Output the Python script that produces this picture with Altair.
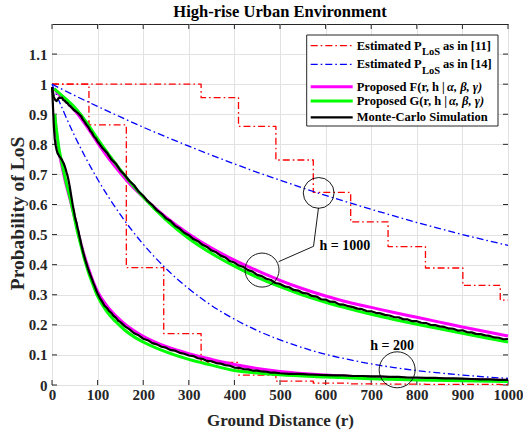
import altair as alt
import pandas as pd

FONT = "Liberation Serif"

# ---------------------------------------------------------------- axes ----
x_ticks = [0, 100, 200, 300, 400, 500, 600, 700, 800, 900, 1000]
y_ticks = [0, 0.1, 0.2, 0.3, 0.4, 0.5, 0.6, 0.7, 0.8, 0.9, 1.0, 1.1]

# ------------------------------------------- estimated P_LoS as in [11] ----
# staircase estimates (value holds until the next breakpoint)
est11_h1000_r = [0, 327, 409, 491, 573, 655, 737, 819, 901, 983, 1000]
est11_h1000_p = [1.0, 0.955, 0.86, 0.748, 0.64, 0.542, 0.46, 0.389, 0.331, 0.282, 0.282]
est11_h200_r = [0, 81, 163, 245, 327, 409, 491, 573, 655, 737, 819, 901, 983, 1000]
est11_h200_p = [1.0, 0.865, 0.39, 0.171, 0.075, 0.033, 0.013, 0.006, 0.004, 0.003,
                0.002, 0.002, 0.001, 0.001]

# ------------------------------------------- estimated P_LoS as in [14] ----
est14_r = [0, 50, 100, 150, 200, 250, 300, 350, 400, 450, 500,
           550, 600, 650, 700, 750, 800, 850, 900, 950, 1000]
est14_h1000_p = [1.0, 0.962, 0.926, 0.891, 0.857, 0.825, 0.794, 0.764, 0.735, 0.707, 0.681,
                 0.655, 0.630, 0.607, 0.584, 0.562, 0.540, 0.520, 0.500, 0.482, 0.464]
est14_h200_p = [1.0, 0.827, 0.684, 0.566, 0.468, 0.387, 0.320, 0.264, 0.219, 0.181, 0.150,
                0.124, 0.102, 0.085, 0.070, 0.058, 0.048, 0.040, 0.033, 0.027, 0.022]

# ----------------------------------------------- proposed F(r, h | a,b,g) ----
propF_h1000_r = [5, 10, 25, 50, 75, 100, 125, 150, 175, 200, 250, 300, 350, 400, 450,
                 500, 550, 600, 650, 700, 750, 800, 850, 900, 950, 1000]
propF_h1000_p = [0.985, 0.975, 0.952, 0.912, 0.862, 0.805, 0.752, 0.705, 0.662, 0.625,
                 0.558, 0.502, 0.455, 0.415, 0.380, 0.348, 0.320, 0.296, 0.275, 0.258,
                 0.241, 0.225, 0.209, 0.193, 0.178, 0.163]
propF_h200_r = [6, 8, 10, 13, 16, 20, 25, 30, 35, 40, 45, 50, 60, 70, 80, 90, 100, 120,
                140, 160, 180, 200, 250, 300, 350, 400, 450, 500, 600, 700, 800, 900, 1000]
propF_h200_p = [0.90, 0.865, 0.835, 0.80, 0.77, 0.74, 0.705, 0.672, 0.643, 0.615, 0.585,
                0.555, 0.49, 0.435, 0.387, 0.345, 0.31, 0.264, 0.23, 0.202, 0.18, 0.162,
                0.128, 0.104, 0.085, 0.068, 0.055, 0.045, 0.033, 0.026, 0.021, 0.018, 0.015]

# ----------------------------------------------- proposed G(r, h | a,b,g) ----
propG_h1000_r = [5, 10, 25, 50, 75, 100, 125, 150, 175, 200, 250, 300, 350, 400, 450,
                 500, 550, 600, 650, 700, 750, 800, 850, 900, 950, 1000]
propG_h1000_p = [0.985, 0.978, 0.958, 0.922, 0.875, 0.818, 0.765, 0.715, 0.668, 0.625,
                 0.549, 0.487, 0.437, 0.395, 0.358, 0.327, 0.299, 0.275, 0.254, 0.235,
                 0.218, 0.202, 0.187, 0.172, 0.157, 0.143]
propG_h200_r = [6, 8, 10, 13, 16, 20, 25, 30, 35, 40, 45, 50, 55, 60, 65, 70, 80, 90, 100,
                120, 140, 160, 180, 200, 250, 300, 350, 400, 450, 500, 600, 700, 800, 900, 1000]
propG_h200_p = [0.90, 0.87, 0.845, 0.81, 0.78, 0.75, 0.715, 0.68, 0.65, 0.62, 0.585, 0.55,
                0.515, 0.485, 0.455, 0.425, 0.375, 0.333, 0.295, 0.245, 0.21, 0.182, 0.16,
                0.143, 0.11, 0.085, 0.066, 0.048, 0.040, 0.034, 0.027, 0.021, 0.017, 0.014,
                0.012]

# ------------------------------------------------ Monte-Carlo simulation ----
mc_h1000_r = [0, 2, 4, 6, 8, 10, 13, 16, 19, 22, 25, 28, 31, 34, 37, 40, 44, 48, 52, 56,
              60, 64, 68, 72, 76, 80, 84, 88, 92, 96,
              100, 110, 120, 130, 140, 150, 160, 170, 180, 190,
              200, 210, 220, 230, 240, 250, 260, 270, 280, 290,
              300, 310, 320, 330, 340, 350, 360, 370, 380, 390,
              400, 410, 420, 430, 440, 450, 460, 470, 480, 490,
              500, 510, 520, 530, 540, 550, 560, 570, 580, 590,
              600, 610, 620, 630, 640, 650, 660, 670, 680, 690,
              700, 710, 720, 730, 740, 750, 760, 770, 780, 790,
              800, 810, 820, 830, 840, 850, 860, 870, 880, 890,
              900, 910, 920, 930, 940, 950, 960, 970, 980, 990, 1000]
mc_h1000_p = [0.99, 0.975, 0.958, 0.95, 0.946, 0.944, 0.95, 0.956, 0.954, 0.955, 0.947,
              0.945, 0.939, 0.937, 0.930, 0.927, 0.921, 0.914, 0.910, 0.905,
              0.899, 0.893, 0.882, 0.874, 0.864, 0.857, 0.845, 0.838, 0.826, 0.82,
              0.810, 0.789, 0.773, 0.750, 0.736, 0.713, 0.697, 0.678, 0.664, 0.643,
              0.629, 0.611, 0.598, 0.581, 0.570, 0.554, 0.545, 0.529, 0.520, 0.506,
              0.498, 0.485, 0.478, 0.466, 0.459, 0.447, 0.441, 0.430, 0.424, 0.412,
              0.407, 0.397, 0.392, 0.382, 0.377, 0.366, 0.362, 0.353, 0.349, 0.339,
              0.336, 0.328, 0.325, 0.316, 0.314, 0.306, 0.304, 0.296, 0.294, 0.285,
              0.284, 0.277, 0.276, 0.268, 0.267, 0.262, 0.259, 0.254, 0.252, 0.246,
              0.245, 0.240, 0.238, 0.233, 0.231, 0.226, 0.225, 0.219, 0.218, 0.212,
              0.212, 0.207, 0.206, 0.200, 0.199, 0.195, 0.193, 0.188, 0.187, 0.181,
              0.182, 0.176, 0.175, 0.170, 0.169, 0.165, 0.163, 0.158, 0.157, 0.152, 0.153]

mc_h200_r = [0, 1, 2, 3, 4, 5, 6, 8, 10, 12, 14, 16, 18, 20, 22, 24, 26, 28, 30, 32, 34,
             36, 38, 40, 42, 44, 46, 48, 50, 52, 54, 56, 58, 60, 62, 64, 66, 68, 70, 73,
             76, 79, 82, 85, 88, 91, 94, 97, 100, 105, 110, 115, 120, 125, 130, 135, 140,
             145, 150, 160, 170, 180, 190, 200, 210, 220, 230, 240, 250, 260, 270, 280,
             290, 300, 310, 320, 330, 340, 350, 360, 370, 380, 390, 400, 410, 420, 430,
             440, 450, 460, 470, 480, 490, 500, 520, 540, 560, 580, 600, 620, 640, 660,
             680, 700, 720, 740, 760, 780, 800, 820, 840, 860, 880, 900, 920, 940, 960,
             980, 1000]
mc_h200_p = [0.99, 0.965, 0.93, 0.895, 0.862, 0.84, 0.818, 0.797, 0.782, 0.771, 0.766,
             0.760, 0.757, 0.752, 0.748, 0.741, 0.736, 0.727, 0.717, 0.706, 0.696, 0.682,
             0.667, 0.649, 0.630, 0.612, 0.593, 0.579, 0.562, 0.548, 0.538, 0.522, 0.511,
             0.495, 0.483, 0.468, 0.456, 0.443, 0.432, 0.415, 0.401, 0.386, 0.374, 0.362,
             0.350, 0.338, 0.327, 0.314, 0.304, 0.289, 0.277, 0.264, 0.257, 0.246, 0.240,
             0.230, 0.224, 0.214, 0.209, 0.195, 0.185, 0.172, 0.165, 0.154, 0.149, 0.139,
             0.135, 0.127, 0.124, 0.116, 0.114, 0.107, 0.104, 0.098, 0.096, 0.089, 0.087,
             0.080, 0.079, 0.073, 0.071, 0.066, 0.064, 0.058, 0.057, 0.053, 0.052, 0.048,
             0.048, 0.045, 0.044, 0.041, 0.041, 0.039, 0.037, 0.037, 0.035, 0.034, 0.033,
             0.032, 0.032, 0.030, 0.030, 0.029, 0.029, 0.027, 0.027, 0.025, 0.025, 0.024,
             0.024, 0.022, 0.022, 0.021, 0.020, 0.019, 0.019, 0.017, 0.017]

# ------------------------------------------------------- annotations ----
ring_r = [584.8, 460.6, 756.9]
ring_p = [0.6385, 0.382, 0.0505]
ring_size = [949, 1156, 1296]
leader_r = [584.4, 573.5, 497.0]
leader_p = [0.589, 0.461, 0.410]
labels_text = ["h = 1000", "h = 200"]
labels_r = [586.6, 746.0]
labels_p = [0.463, 0.129]
labels_align = ["left", "center"]

# ------------------------------------------------------------ layout ----
W, H = 456, 361
DASHDOT = [7, 3, 1.6, 3]

x_scale = alt.Scale(domain=[0, 1000], nice=False, zero=False)
y_scale = alt.Scale(domain=[0, 1.2], nice=False, zero=False)

x_axis = alt.Axis(values=x_ticks, format="d", title="Ground Distance (r)", grid=True,
                  ticks=False, domain=False, labelPadding=2, labelFlush=False,
                  labelOverlap=False, titleX=W / 2, titleY=35, titleBaseline="middle",
                  titleAlign="center", labelFontSize=15, titleFontSize=17)
y_axis = alt.Axis(values=y_ticks, format="~g", title="Probability of LoS", grid=True,
                  ticks=False, domain=False, labelPadding=5, labelOverlap=False,
                  titleX=-35, titleY=189, titleAngle=-90, titleBaseline="middle",
                  titleAlign="center", labelFontSize=15, titleFontSize=19.5)

X = alt.X("r:Q", scale=x_scale, axis=x_axis)
Y = alt.Y("p:Q", scale=y_scale, axis=y_axis)


def frame(r, p):
    return pd.DataFrame({"r": r, "p": p})


def curve(r, p, color, width, dash=None, interp="linear"):
    kw = dict(color=color, strokeWidth=width, interpolate=interp, strokeJoin="round")
    if dash:
        kw["strokeDash"] = dash
    return alt.Chart(frame(r, p)).mark_line(**kw).encode(x=X, y=Y)


one = pd.DataFrame({"k": [0]})

# inward ticks on all four sides of the box
tick_col = "#262626"
xt = pd.DataFrame({"r": x_ticks})
yt = pd.DataFrame({"p": y_ticks})
ticks = [
    alt.Chart(xt).mark_rule(color=tick_col, strokeWidth=1).encode(
        x=X, y=alt.value(H), y2=alt.value(H - 5)),
    alt.Chart(xt).mark_rule(color=tick_col, strokeWidth=1).encode(
        x=X, y=alt.value(0), y2=alt.value(5)),
    alt.Chart(yt).mark_rule(color=tick_col, strokeWidth=1).encode(
        y=Y, x=alt.value(0), x2=alt.value(5)),
    alt.Chart(yt).mark_rule(color=tick_col, strokeWidth=1).encode(
        y=Y, x=alt.value(W), x2=alt.value(W - 5)),
]

series = [
    curve(est11_h1000_r, est11_h1000_p, "#ff0000", 1.3, DASHDOT, "step-after"),
    curve(est11_h200_r, est11_h200_p, "#ff0000", 1.3, DASHDOT, "step-after"),
    curve(est14_r, est14_h1000_p, "#0000ff", 1.3, DASHDOT, "monotone"),
    curve(est14_r, est14_h200_p, "#0000ff", 1.3, DASHDOT, "monotone"),
    curve(propF_h1000_r, propF_h1000_p, "#ff00ff", 3, None, "monotone"),
    curve(propF_h200_r, propF_h200_p, "#ff00ff", 3, None, "monotone"),
    curve(propG_h1000_r, propG_h1000_p, "#00ff00", 3, None, "monotone"),
    curve(propG_h200_r, propG_h200_p, "#00ff00", 3, None, "monotone"),
    curve(mc_h1000_r, mc_h1000_p, "#000000", 2.2),
    curve(mc_h200_r, mc_h200_p, "#000000", 2.2),
]

rings = alt.Chart(pd.DataFrame({"r": ring_r, "p": ring_p, "s": ring_size})).mark_point(
    shape="circle", filled=False, color="#000000", strokeWidth=0.9, opacity=1
).encode(x=X, y=Y, size=alt.Size("s:Q", scale=None, legend=None))

leader = alt.Chart(pd.DataFrame({"r": leader_r, "p": leader_p, "o": [0, 1, 2]})).mark_line(
    color="#000000", strokeWidth=0.9
).encode(x=X, y=Y, order="o:Q")

h_labels = [
    alt.Chart(pd.DataFrame({"r": [labels_r[i]], "p": [labels_p[i]], "t": [labels_text[i]]}))
    .mark_text(font=FONT, fontWeight="bold", fontSize=14, align=labels_align[i],
               baseline="middle", color="#000000")
    .encode(x=X, y=Y, text="t:N")
    for i in range(2)
]

title = alt.Chart(one).mark_text(
    font=FONT, fontWeight="bold", fontSize=16.5, align="center", baseline="middle",
    color="#000000"
).encode(x=alt.value(W / 2), y=alt.value(-12.3), text=alt.value("High-rise Urban Environment"))

# legend box
LX0, LX1, LY0, LY1 = 254.7, 446, 11, 102
SX0, SX1, TX = 258.7, 300.7, 304.7
rows = [21.7, 40.3, 62.7, 77.0, 93.3]

legend = [
    alt.Chart(one).mark_rect(fill="white", stroke="#262626", strokeWidth=1).encode(
        x=alt.value(LX0), x2=alt.value(LX1), y=alt.value(LY0), y2=alt.value(LY1)),
]
sample_styles = [("#ff0000", 1.3, DASHDOT), ("#0000ff", 1.3, DASHDOT),
                 ("#ff00ff", 3, None), ("#00ff00", 3, None), ("#000000", 2.2, None)]
for (col, sw, dash), yy in zip(sample_styles, rows):
    kw = dict(color=col, strokeWidth=sw)
    if dash:
        kw["strokeDash"] = dash
    legend.append(alt.Chart(one).mark_rule(**kw).encode(
        x=alt.value(SX0), x2=alt.value(SX1), y=alt.value(yy)))


def ltext(s, x, y, size=12.5, style="normal"):
    return alt.Chart(one).mark_text(
        font=FONT, fontWeight="bold", fontSize=size, fontStyle=style, align="left",
        baseline="middle", color="#000000"
    ).encode(x=alt.value(x), y=alt.value(y), text=alt.value(s))


for yy, ref in zip(rows[:2], ["[11]", "[14]"]):
    legend.append(ltext("Estimated P", TX, yy))
    legend.append(ltext("LoS", TX + 65.3, yy + 6.5, size=10.5))
    legend.append(ltext("as in " + ref, 391, yy))
legend.append(ltext("Proposed F(r, h |", TX, rows[2]))
legend.append(ltext("\u03b1, \u03b2, \u03b3)", TX + 90.3, rows[2], style="italic"))
legend.append(ltext("Proposed G(r, h |", TX, rows[3]))
legend.append(ltext("\u03b1, \u03b2, \u03b3)", TX + 92.2, rows[3], style="italic"))
legend.append(ltext("Monte-Carlo Simulation", TX, rows[4]))

chart = alt.layer(
    *ticks, *series, rings, leader, *h_labels, title, *legend
).properties(
    width=W, height=H,
    padding={"left": 52, "top": 24, "right": 15, "bottom": 47},
    autosize=alt.AutoSizeParams(type="none"),
).configure(
    font=FONT
).configure_view(
    stroke="#262626", strokeWidth=1
).configure_axis(
    labelFont=FONT, labelFontWeight="bold", labelColor="#262626",
    titleFont=FONT, titleFontWeight="bold", titleColor="#262626",
    gridColor="#e2e2e2", gridWidth=1, gridOpacity=1
)

chart.save("out.html", embed_options={"renderer": "svg", "actions": False})
